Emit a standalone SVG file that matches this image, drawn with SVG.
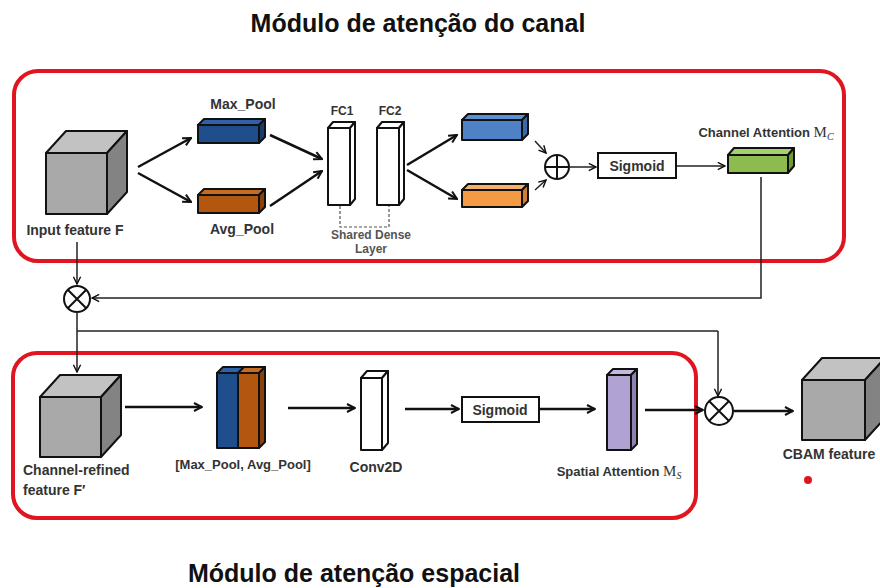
<svg xmlns="http://www.w3.org/2000/svg" width="880" height="588" viewBox="0 0 880 588">
<defs>
<marker id="ah" viewBox="0 0 10 10" refX="9" refY="5" markerWidth="10" markerHeight="10" markerUnits="userSpaceOnUse" orient="auto">
<path d="M1,1 L9,5 L1,9" fill="none" stroke="#111" stroke-width="2" stroke-linejoin="miter"/>
</marker>
<marker id="ahs" viewBox="0 0 10 10" refX="9" refY="5" markerWidth="9" markerHeight="9" markerUnits="userSpaceOnUse" orient="auto">
<path d="M1,1 L9,5 L1,9" fill="none" stroke="#111" stroke-width="1.6"/>
</marker>
</defs>
<style>
.title{font-family:"Liberation Sans",Arial,sans-serif;font-weight:bold;font-size:25px;fill:#111}
.lbl{font-family:"Liberation Sans",Arial,sans-serif;font-weight:bold;font-size:14px;fill:#333}
.sm{font-family:"Liberation Sans",Arial,sans-serif;font-weight:bold;font-size:13px;fill:#333}
.fc{font-family:"Liberation Sans",Arial,sans-serif;font-weight:bold;font-size:12px;fill:#333}
.math{font-family:"Liberation Serif","Times New Roman",serif;font-weight:normal}
.red{fill:none;stroke:#e0151f;stroke-width:4}
.blk{stroke:#111;stroke-width:2;stroke-linejoin:round}
.arr{fill:none;stroke:#111;stroke-width:2.5;marker-end:url(#ah)}
.thin{fill:none;stroke:#222;stroke-width:1.5}
.thinarr{fill:none;stroke:#222;stroke-width:1.5;marker-end:url(#ahs)}
.op{fill:#fff;stroke:#111;stroke-width:2}
.box{fill:#fff;stroke:#111;stroke-width:2}
</style>
<rect x="0" y="0" width="880" height="588" fill="#fff"/>
<text class="title" x="418" y="32" text-anchor="middle">Módulo de atenção do canal</text>
<text class="title" x="354" y="582" text-anchor="middle">Módulo de atenção espacial</text>
<rect class="red" x="14" y="71" width="830" height="190" rx="24"/>
<rect class="red" x="13" y="353" width="683" height="165" rx="24"/>

<g id="input-feature">
<polygon class="blk" fill="#c2c2c2" points="46,153 66,131 127,131 107,153"/>
<polygon class="blk" fill="#838383" points="107,153 127,131 127,192 107,214"/>
<rect class="blk" fill="#a9a9a9" x="46" y="153" width="61" height="61"/>
<text class="lbl" x="75" y="235" text-anchor="middle">Input feature F</text>
</g>
<g id="max-pool">
<polygon class="blk" fill="#2f62a8" points="198,125 204,119 265,119 259,125"/>
<polygon class="blk" fill="#173d6e" points="259,125 265,119 265,137 259,143"/>
<rect class="blk" fill="#1f4e8c" x="198" y="125" width="61" height="18"/>
<text class="lbl" x="243" y="109" text-anchor="middle">Max_Pool</text>
</g>
<g id="avg-pool">
<polygon class="blk" fill="#c56c22" points="198,195 204,189 265,189 259,195"/>
<polygon class="blk" fill="#8a400a" points="259,195 265,189 265,207 259,213"/>
<rect class="blk" fill="#b3560f" x="198" y="195" width="61" height="18"/>
<text class="lbl" x="242" y="234" text-anchor="middle">Avg_Pool</text>
</g>
<g id="fc1">
<polygon class="blk" fill="#fff" points="328,128 333,122 355,122 350,128"/>
<polygon class="blk" fill="#fff" points="350,128 355,122 355,199 350,205"/>
<rect class="blk" fill="#fff" x="328" y="128" width="22" height="77"/>
<text class="fc" x="342" y="115" text-anchor="middle">FC1</text>
</g>
<g id="fc2">
<polygon class="blk" fill="#fff" points="377,128 382,122 404,122 399,128"/>
<polygon class="blk" fill="#fff" points="399,128 404,122 404,199 399,205"/>
<rect class="blk" fill="#fff" x="377" y="128" width="22" height="77"/>
<text class="fc" x="390" y="115" text-anchor="middle">FC2</text>
</g>
<g id="shared-dense">
<path d="M340,206 V227 H389 V206" fill="none" stroke="#555" stroke-width="1.2" stroke-dasharray="3,2"/>
<text class="fc" x="371" y="239" text-anchor="middle" style="fill:#555">Shared Dense</text>
<text class="fc" x="371" y="253" text-anchor="middle" style="fill:#555">Layer</text>
</g>
<g id="mlp-max">
<polygon class="blk" fill="#5b8fd4" points="462,120 468,114 528,114 522,120"/>
<polygon class="blk" fill="#3a68a8" points="522,120 528,114 528,134 522,140"/>
<rect class="blk" fill="#4f81c7" x="462" y="120" width="60" height="20"/>
</g>
<g id="mlp-avg">
<polygon class="blk" fill="#f7b06a" points="462,190 468,184 528,184 522,190"/>
<polygon class="blk" fill="#d07f30" points="522,190 528,184 528,201 522,207"/>
<rect class="blk" fill="#f39a45" x="462" y="190" width="60" height="17"/>
</g>
<g id="add">
<circle class="op" cx="557" cy="167" r="12"/>
<path d="M545,167 H569 M557,155 V179" stroke="#111" stroke-width="2"/>
</g>
<g id="sigmoid1">
<rect class="box" x="598" y="153" width="78" height="25"/>
<text class="lbl" x="637" y="171" text-anchor="middle">Sigmoid</text>
</g>
<g id="channel-attention">
<polygon class="blk" fill="#a6d06b" points="728,155 734,148 794,148 788,155"/>
<polygon class="blk" fill="#6e9a38" points="788,155 794,148 794,166 788,173"/>
<rect class="blk" fill="#8dbb4f" x="728" y="155" width="60" height="18"/>
<text class="sm" x="766" y="137" text-anchor="middle">Channel Attention <tspan class="math" font-size="15">M</tspan><tspan class="math" font-style="italic" font-size="10" dy="3">C</tspan></text>
</g>
<g id="mul1">
<circle class="op" cx="77" cy="299" r="13"/>
<path d="M68,290 L86,308 M86,290 L68,308" stroke="#111" stroke-width="2"/>
</g>
<g id="refined-feature">
<polygon class="blk" fill="#c2c2c2" points="40,397 60,375 121,375 101,397"/>
<polygon class="blk" fill="#838383" points="101,397 121,375 121,435 101,457"/>
<rect class="blk" fill="#a9a9a9" x="40" y="397" width="61" height="60"/>
<text class="lbl" x="23" y="475">Channel-refined</text>
<text class="lbl" x="23" y="495">feature F′</text>
</g>
<g id="pool-concat">
<polygon class="blk" fill="#2f62a8" points="217,373 223,367 244,367 238,373"/>
<polygon class="blk" fill="#c56c22" points="238,373 244,367 265,367 259,373"/>
<polygon class="blk" fill="#8a400a" points="259,373 265,367 265,442 259,448"/>
<rect class="blk" fill="#1f4e8c" x="217" y="373" width="21" height="75"/>
<rect class="blk" fill="#b3560f" x="238" y="373" width="21" height="75"/>
<text class="sm" x="243" y="469" text-anchor="middle">[Max_Pool, Avg_Pool]</text>
</g>
<g id="conv2d">
<polygon class="blk" fill="#fff" points="361,378 367,371 388,371 382,378"/>
<polygon class="blk" fill="#fff" points="382,378 388,371 388,443 382,450"/>
<rect class="blk" fill="#fff" x="361" y="378" width="21" height="72"/>
<text class="lbl" x="376" y="472" text-anchor="middle">Conv2D</text>
</g>
<g id="sigmoid2">
<rect class="box" x="462" y="397" width="77" height="25"/>
<text class="lbl" x="500" y="415" text-anchor="middle">Sigmoid</text>
</g>
<g id="spatial-attention">
<polygon class="blk" fill="#c4b8e0" points="607,375 613,369 637,369 631,375"/>
<polygon class="blk" fill="#8e80b0" points="631,375 637,369 637,444 631,450"/>
<rect class="blk" fill="#b0a2d2" x="607" y="375" width="24" height="75"/>
<text class="sm" x="619" y="476" text-anchor="middle">Spatial Attention <tspan class="math" font-size="15">M</tspan><tspan class="math" font-style="italic" font-size="10" dy="3">S</tspan></text>
</g>
<g id="mul2">
<circle class="op" cx="719" cy="411" r="14"/>
<path d="M709,401 L729,421 M729,401 L709,421" stroke="#111" stroke-width="2"/>
</g>
<g id="cbam-feature">
<polygon class="blk" fill="#c2c2c2" points="802,380 822,358 885,358 865,380"/>
<polygon class="blk" fill="#838383" points="865,380 885,358 885,418 865,440"/>
<rect class="blk" fill="#a9a9a9" x="802" y="380" width="63" height="60"/>
<text class="lbl" x="829" y="459" text-anchor="middle">CBAM feature</text>
<circle cx="808" cy="480" r="4" fill="#e0151f"/>
</g>

<g id="connectors">
<path class="arr" d="M138,167 L191,138"/>
<path class="arr" d="M138,173 L191,202"/>
<path class="arr" d="M270,135 L322,159"/>
<path class="arr" d="M270,206 L322,171"/>
<path class="arr" d="M407,165 L457,135"/>
<path class="arr" d="M407,170 L457,199"/>
<path class="thinarr" d="M535,141 L546,153"/>
<path class="thinarr" d="M535,190 L546,180"/>
<path class="thinarr" d="M570,167 L596,167"/>
<path class="thinarr" d="M677,166 L725,166"/>
<path class="thinarr" d="M761,177 V298 H92"/>
<path class="thinarr" d="M77,242 V284"/>
<path class="thinarr" d="M77,312 V372"/>
<path class="thin" d="M77,331 H718"/>
<path class="thinarr" d="M718,331 V396"/>
<path class="arr" d="M125,407 L202,407"/>
<path class="arr" d="M288,408 L355,408"/>
<path class="arr" d="M405,409 L459,409"/>
<path class="arr" d="M540,409 L595,409"/>
<path class="arr" d="M645,410 L703,410"/>
<path class="arr" d="M734,411 L793,411"/>
</g>
</svg>
